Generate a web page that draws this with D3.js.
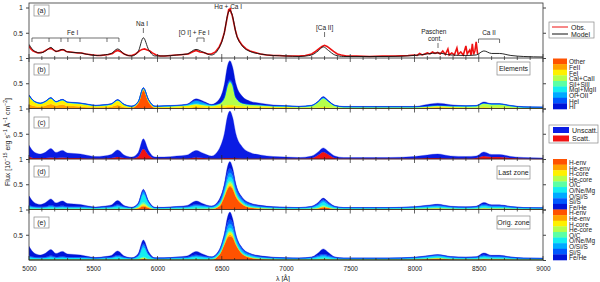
<!DOCTYPE html>
<html>
<head>
<meta charset="utf-8">
<script src="https://cdn.jsdelivr.net/npm/d3@7"></script>
<style>
  body { margin: 0; background: #fff; }
  text { font-family: "Liberation Sans", Arial, sans-serif; fill: #222; }
</style>
</head>
<body>
<script>
var width = 600,
    height = 282;

// wavelength grid (Angstrom) shared by the model and its decompositions
var lambda = [5000,5040,5090,5130,5170,5210,5260,5300,5350,5400,
              5460,5520,5580,5640,5690,5740,5800,5850,5890,5930,
              5980,6050,6150,6230,6300,6360,6420,6480,6520,6545,
              6563,6585,6610,6660,6720,6800,6900,7000,7100,7200,
              7250,7290,7330,7380,7450,7600,7800,8000,8100,8180,
              8280,8400,8480,8540,8600,8660,8750,8850,9000];

// total model flux, panel (a)
var model = [.27,.14,.10,.14,.21,.13,.17,.12,.11,.10,
             .07,.05,.06,.09,.18,.08,.04,.13,.40,.17,
             .04,.04,.06,.08,.17,.11,.06,.20,.50,.85,
             .95,.82,.50,.24,.13,.08,.05,.04,.03,.06,
             .14,.22,.15,.06,.03,.03,.03,.05,.08,.10,
             .06,.05,.06,.14,.09,.09,.05,.03,.02];

// observed spectrum [lambda, flux]
var obs = [[5000,.24],[5008,.20],[5015,.18],[5030,.14],[5050,.12],[5070,.10],[5090,.11],[5110,.12],[5130,.15],[5150,.18],
           [5170,.19],[5190,.16],[5210,.13],[5230,.14],[5250,.16],[5270,.16],[5290,.13],[5320,.12],[5350,.11],[5380,.10],
           [5410,.10],[5440,.08],[5470,.07],[5500,.06],[5530,.05],[5560,.05],[5590,.06],[5620,.07],[5650,.09],[5670,.13],
           [5690,.15],[5710,.13],[5740,.08],[5770,.05],[5800,.05],[5830,.08],[5860,.14],[5880,.17],[5900,.18],[5920,.16],
           [5940,.14],[5960,.10],[5990,.06],[6020,.04],[6060,.04],[6100,.05],[6150,.06],[6200,.07],[6240,.08],[6270,.12],
           [6300,.15],[6330,.12],[6360,.11],[6390,.08],[6420,.08],[6450,.12],[6480,.22],[6500,.33],[6520,.50],[6535,.70],
           [6548,.88],[6555,.97],[6560,.92],[6566,.99],[6572,.90],[6580,.86],[6590,.74],[6605,.56],[6620,.42],[6640,.32],
           [6660,.25],[6690,.18],[6720,.14],[6760,.11],[6800,.08],[6850,.06],[6900,.05],[6950,.05],[7000,.04],[7050,.04],
           [7100,.04],[7150,.05],[7200,.08],[7230,.13],[7260,.19],[7280,.23],[7300,.25],[7320,.23],[7340,.19],[7370,.13],
           [7400,.08],[7430,.06],[7470,.04],[7550,.04],[7650,.03],[7750,.04],[7850,.04],[7950,.05],[8000,.06],[8020,.05],
           [8040,.09],[8060,.06],[8080,.08],[8100,.10],[8120,.08],[8140,.12],[8160,.09],[8180,.11],[8200,.08],[8220,.14],
           [8240,.07],[8260,.18],[8270,.06],[8290,.10],[8310,.06],[8330,.20],[8340,.07],[8360,.12],[8380,.06],[8400,.24],
           [8410,.08],[8430,.16],[8440,.06],[8450,.28],[8460,.07],[8470,.14],[8480,.32],[8490,.10],[8494,.08]];

// panel (b): contribution per element
var elemNames = ["Other","FeII","FeI","CaI+CaII","SiI+SiII","MgI+MgII","OI+OII","HeI","HI"];
var bOther = [.01,.01,.01,.01,.01,.01,.01,.01,.01,.01,
              .005,.005,.005,.005,.01,.005,.01,.10,.36,.13,
              .01,.005,.005,.005,.01,.01,.005,.01,.01,.02,
              .02,.02,.01,.01,.005,.005,.005,0,0,0,
              .005,.005,.005,0,0,0,0,0,.005,.005,
              .005,0,0,.01,.005,.005,0,0,0];
var bFeII = [.08,.04,.03,.05,.08,.05,.07,.04,.04,.03,
             .02,.02,.02,.03,.06,.02,.01,.01,.01,.01,
             .01,.01,.01,.01,.02,.01,.01,.01,.01,.01,
             .01,.01,.01,.01,.01,.01,.01,.01,.005,.005,
             .005,.01,.005,.005,.005,.005,.005,.005,.01,.02,
             .01,.01,.005,.01,.005,.005,.005,0,0];
var bFeI = [.15,.08,.05,.07,.10,.06,.08,.06,.05,.05,
            .04,.02,.03,.04,.08,.04,.01,.01,.02,.02,
            .01,.02,.03,.04,.05,.04,.03,.04,.04,.04,
            .04,.04,.04,.03,.03,.03,.02,.02,.015,.015,
            .015,.015,.015,.015,.01,.01,.01,.01,.015,.015,
            .015,.01,.01,.01,.01,.01,.01,.01,.01];
var bCa = [.01,.005,.005,.005,.01,.005,.005,.005,.005,.005,
           .005,.005,.005,.005,.01,.005,.005,.005,.005,.005,
           .005,.005,.005,.005,.01,.01,.01,.03,.15,.38,
           .45,.38,.15,.05,.03,.02,.01,.01,.01,.03,
           .10,.17,.11,.03,.01,.01,.01,.01,.01,.015,
           .015,.02,.03,.07,.06,.06,.03,.01,.005];
var bSi = [.004,.004,.004,.004,.004,.004,.004,.004,.004,.004,
           .004,.004,.004,.004,.004,.004,.004,.004,.004,.004,
           .004,.004,.004,.004,.004,.004,.004,.004,.004,.004,
           .004,.004,.004,.004,.004,.004,.004,.004,.004,.004,
           .004,.004,.004,.004,.004,.004,.004,.004,.004,.004,
           .004,.004,.004,.004,.004,.004,.004,.004,.004];
var bMg = [.004,.004,.004,.004,.004,.004,.004,.004,.004,.004,
           .004,.004,.004,.004,.004,.004,.004,.004,.004,.004,
           .004,.004,.004,.004,.004,.004,.004,.004,.004,.004,
           .004,.004,.004,.004,.004,.004,.004,.004,.004,.004,
           .004,.004,.004,.004,.004,.004,.004,.004,.004,.004,
           .004,.004,.004,.004,.004,.004,.004,.004,.004];
var bO = [0,0,0,0,0,0,0,0,0,0,
          0,0,0,0,0,0,0,0,0,0,
          0,0,0,.01,.06,.04,.01,0,0,.01,
          .01,.01,0,0,0,0,0,0,0,0,
          0,.01,0,0,0,0,0,0,0,0,
          0,0,0,0,0,0,0,0,0];
var bHeI = [.003,.003,.003,.003,.003,.003,.003,.003,.003,.003,
            .003,.003,.003,.003,.003,.003,.003,.003,.005,.003,
            .003,.003,.003,.003,.003,.003,.003,.003,.005,.02,
            .03,.02,.005,.003,.003,.003,.003,.003,.003,.003,
            .003,.003,.003,.003,.003,.003,.003,.003,.003,.003,
            .003,.003,.003,.003,.003,.003,.003,.003,.003];
var bHI = [.01,.005,.005,.005,.005,.005,.005,.005,.005,.005,
           .005,.005,.005,.005,.005,.005,.005,.005,.005,.005,
           .005,.005,.005,.005,.03,.02,.005,.08,.25,.36,
           .38,.33,.27,.13,.06,.03,.015,.005,.005,.005,
           .01,.015,.01,.005,.005,.005,.005,.005,.03,.04,
           .02,.005,.005,.02,.005,.005,.005,.005,.005];

// panel (c): scattered / unscattered
var scatNames = ["Scatt.","Unscatt."];
var cScatt = [.05,.02,.02,.02,.03,.02,.03,.02,.02,.02,
              .01,.01,.01,.02,.04,.02,.01,.05,.20,.08,
              .01,.01,.01,.01,.03,.02,.01,.01,.02,.02,
              .02,.02,.02,.01,.01,.01,.01,.01,.01,.02,
              .08,.14,.09,.02,.01,.01,.01,.01,.02,.02,
              .01,.01,.02,.06,.04,.04,.02,.01,.005];
var cUnscatt = [.22,.12,.08,.12,.18,.11,.14,.10,.09,.08,
                .06,.04,.05,.07,.14,.06,.03,.08,.20,.09,
                .03,.03,.05,.07,.14,.09,.05,.19,.48,.83,
                .93,.80,.48,.23,.12,.07,.04,.03,.02,.04,
                .06,.08,.06,.04,.02,.02,.02,.04,.06,.08,
                .05,.04,.04,.08,.05,.05,.03,.02,.015];

// panels (d) and (e): contribution per zone
var zoneNames = ["H-env","He-env","H-core","He-core","O/C","O/Ne/Mg","O/Si/S","Si/S","Fe/He"];
var dHenv = [.005,.005,.005,.005,.005,.005,.005,.005,.005,.005,
             .005,.005,.005,.005,.005,.005,.005,.02,.06,.03,
             .005,.005,.005,.005,.01,.01,.01,.06,.25,.40,
             .45,.40,.25,.10,.04,.02,.01,.005,.005,.01,
             .02,.04,.03,.01,.005,.005,.005,.01,.015,.02,
             .01,.005,.01,.02,.015,.015,.01,.005,.005];
var dHeenv = [.003,.003,.003,.003,.003,.003,.003,.003,.003,.003,
              .003,.003,.003,.003,.003,.003,.003,.01,.02,.01,
              .003,.003,.003,.003,.003,.003,.003,.01,.02,.03,
              .03,.03,.02,.01,.003,.003,.003,.003,.003,.003,
              .005,.01,.005,.003,.003,.003,.003,.003,.003,.003,
              .003,.003,.003,.003,.003,.003,.003,.003,.003];
var dHcore = [.003,.003,.003,.003,.003,.003,.003,.003,.003,.003,
              .003,.003,.003,.003,.003,.003,.003,.01,.02,.01,
              .003,.003,.003,.003,.003,.003,.003,.01,.02,.03,
              .03,.03,.02,.01,.003,.003,.003,.003,.003,.003,
              .005,.01,.005,.003,.003,.003,.003,.003,.003,.003,
              .003,.003,.003,.003,.003,.003,.003,.003,.003];
var dHecore = [.006,.006,.006,.006,.006,.006,.006,.006,.006,.006,
               .006,.006,.006,.006,.006,.006,.006,.006,.02,.006,
               .006,.006,.006,.006,.006,.006,.006,.006,.02,.03,
               .03,.03,.02,.006,.006,.006,.006,.006,.006,.006,
               .006,.006,.006,.006,.006,.006,.006,.006,.006,.006,
               .006,.006,.006,.006,.006,.006,.006,.006,.006];
var dOC = [.003,.003,.003,.003,.003,.003,.003,.003,.003,.003,
           .003,.003,.003,.003,.003,.003,.003,.01,.03,.01,
           .003,.003,.003,.003,.003,.003,.003,.003,.003,.03,
           .03,.03,.003,.003,.003,.003,.003,.003,.003,.003,
           .003,.02,.003,.003,.003,.003,.003,.003,.003,.003,
           .003,.003,.003,.003,.003,.003,.003,.003,.003];
var dONeMg = [.03,.02,.015,.02,.03,.02,.025,.02,.02,.02,
              .015,.01,.015,.02,.04,.02,.01,.03,.15,.06,
              .01,.01,.015,.02,.04,.03,.02,.03,.05,.07,
              .08,.07,.05,.03,.02,.015,.01,.01,.008,.015,
              .04,.06,.04,.015,.008,.008,.008,.012,.02,.025,
              .015,.012,.015,.035,.02,.02,.012,.008,.005];
var dOSiS = [.02,.01,.01,.01,.02,.01,.015,.01,.01,.01,
             .01,.005,.01,.01,.02,.01,.005,.02,.05,.02,
             .005,.005,.01,.01,.02,.015,.01,.02,.05,.07,
             .08,.07,.05,.03,.02,.01,.008,.006,.005,.01,
             .02,.03,.02,.01,.005,.005,.005,.008,.012,.015,
             .01,.008,.01,.02,.015,.015,.01,.005,.004];
var dSiS = [.02,.01,.01,.01,.02,.01,.015,.01,.01,.01,
            .01,.005,.01,.01,.02,.01,.005,.01,.03,.01,
            .005,.005,.01,.01,.02,.015,.01,.02,.05,.08,
            .08,.08,.05,.03,.02,.01,.008,.006,.005,.01,
            .02,.02,.02,.01,.005,.005,.005,.008,.012,.015,
            .01,.008,.01,.02,.015,.015,.01,.005,.004];
var dFeHe = [.18,.08,.045,.08,.12,.07,.095,.06,.05,.04,
             .015,.01,.01,.03,.08,.02,.005,.015,.02,.015,
             .003,.003,.005,.02,.065,.025,.003,.04,.04,.11,
             .14,.08,.04,.02,.015,.013,.005,.003,.002,.005,
             .02,.03,.02,.005,.002,.002,.002,.003,.01,.015,
             .005,.005,.005,.03,.013,.013,.002,.002,.002];

var eHenv = [.005,.005,.005,.005,.005,.005,.005,.005,.005,.005,
             .005,.005,.005,.005,.005,.005,.005,.01,.02,.01,
             .005,.005,.005,.005,.01,.005,.005,.10,.30,.44,
             .47,.44,.30,.12,.05,.02,.01,.005,.005,.005,
             .01,.015,.01,.005,.005,.005,.005,.01,.02,.03,
             .015,.01,.01,.02,.015,.015,.01,.005,.005];
var eHeenv = [.003,.003,.003,.003,.003,.003,.003,.003,.003,.003,
              .003,.003,.003,.003,.003,.003,.003,.003,.01,.003,
              .003,.003,.003,.003,.003,.003,.003,.003,.02,.03,
              .03,.03,.02,.003,.003,.003,.003,.003,.003,.003,
              .003,.003,.003,.003,.003,.003,.003,.003,.003,.005,
              .003,.003,.003,.003,.003,.003,.003,.003,.003];
var eHcore = [.003,.003,.003,.003,.003,.003,.003,.003,.003,.003,
              .003,.003,.003,.003,.003,.003,.003,.003,.01,.003,
              .003,.003,.003,.003,.003,.003,.003,.003,.02,.03,
              .04,.03,.02,.003,.003,.003,.003,.003,.003,.003,
              .003,.003,.003,.003,.003,.003,.003,.003,.003,.003,
              .003,.003,.003,.003,.003,.003,.003,.003,.003];
var eHecore = [.006,.006,.006,.006,.006,.006,.006,.006,.006,.006,
               .006,.006,.006,.006,.006,.006,.006,.006,.006,.006,
               .006,.006,.006,.006,.006,.006,.006,.006,.006,.02,
               .02,.02,.006,.006,.006,.006,.006,.006,.006,.006,
               .006,.006,.006,.006,.006,.006,.006,.006,.006,.006,
               .006,.006,.006,.006,.006,.006,.006,.006,.006];
var eOC = [.003,.003,.003,.003,.003,.003,.003,.003,.003,.003,
           .003,.003,.003,.003,.003,.003,.003,.003,.02,.003,
           .003,.003,.003,.003,.003,.003,.003,.003,.003,.02,
           .02,.02,.003,.003,.003,.003,.003,.003,.003,.003,
           .003,.003,.003,.003,.003,.003,.003,.003,.003,.003,
           .003,.003,.003,.003,.003,.003,.003,.003,.003];
var eONeMg = [.03,.02,.015,.02,.03,.02,.025,.02,.02,.02,
              .015,.01,.015,.02,.04,.02,.01,.04,.18,.07,
              .01,.01,.015,.02,.04,.03,.02,.03,.05,.05,
              .06,.05,.04,.03,.02,.015,.01,.01,.008,.015,
              .03,.04,.03,.015,.008,.008,.008,.012,.02,.025,
              .015,.012,.015,.03,.02,.02,.012,.008,.005];
var eOSiS = [.02,.01,.01,.01,.02,.01,.015,.01,.01,.01,
             .01,.005,.01,.01,.02,.01,.005,.02,.05,.02,
             .005,.005,.01,.01,.02,.015,.01,.02,.05,.07,
             .08,.07,.05,.03,.02,.01,.008,.006,.005,.01,
             .02,.03,.02,.01,.005,.005,.005,.008,.012,.015,
             .01,.008,.01,.02,.015,.015,.01,.005,.004];
var eSiS = [.02,.01,.01,.01,.02,.01,.015,.01,.01,.01,
            .01,.005,.01,.01,.02,.01,.005,.01,.03,.01,
            .005,.005,.01,.01,.02,.015,.01,.02,.05,.08,
            .08,.08,.05,.03,.02,.01,.008,.006,.005,.01,
            .02,.02,.02,.01,.005,.005,.005,.008,.012,.015,
            .01,.008,.01,.02,.015,.015,.01,.005,.004];
var eFeHe = [.18,.08,.045,.08,.12,.07,.095,.06,.05,.04,
             .015,.01,.01,.03,.08,.02,.005,.035,.07,.045,
             .003,.003,.005,.02,.065,.03,.003,.015,.01,.11,
             .15,.08,.01,.015,.005,.013,.005,.003,.002,.005,
             .045,.10,.055,.005,.002,.002,.002,.003,.005,.005,
             .005,.005,.005,.035,.013,.013,.002,.002,.002];

// axis ticks and annotation positions
var xMajor = [5000,5500,6000,6500,7000,7500,8000,8500,9000];
var xMinor = d3.range(5000, 9001, 100);
var yTicks = [0.5, 1];
var panelTags = ["(a)","(b)","(c)","(d)","(e)"];
var feLines = [5023,5156,5249,5303,5397,5607,5700];

// jet-like palette, top of colour bar first
var jet = ["#ff5200","#ffa200","#fff000","#b6ff4a","#5cffa4","#14eef0","#00aaff","#0058ff","#0014d8"];
var scatColors = ["#f01212","#0a1ce4"];

var svg = d3.select("body")
            .append("svg")
            .attr("width", width)
            .attr("height", height);

var x = d3.scaleLinear()
          .domain([5000, 9000])
          .range([29, 543]);

var panelH = 50.5,
    bottoms = [58, 108.5, 159, 209.5, 260],
    top0 = 3;

var ys = bottoms.map(function(b) {
  return d3.scaleLinear().domain([0, 1]).range([b, b - panelH]);
});

svg.append("clipPath").attr("id", "frame")
   .append("rect").attr("x", 29).attr("y", top0).attr("width", 514).attr("height", 260 - top0);

var plot = svg.append("g").attr("clip-path", "url(#frame)");

/* stacked panels */
function stackPanel(i, names, arrays, colors) {
  var rows = lambda.map(function(l, k) {
    var r = {l: l};
    names.forEach(function(n, j) { r[n] = arrays[j][k]; });
    return r;
  });
  var series = d3.stack().keys(names)(rows);
  var area = d3.area()
      .x(function(d) { return x(d.data.l); })
      .y0(function(d) { return ys[i](d[0]); })
      .y1(function(d) { return ys[i](d[1]); })
      .curve(d3.curveMonotoneX);
  plot.append("g").selectAll("path")
      .data(series)
      .enter().append("path")
      .attr("d", area)
      .attr("fill", function(d, j) { return colors[j]; })
      .attr("stroke", function(d, j) { return colors[j]; })
      .attr("stroke-width", 0.3);
}

stackPanel(1, elemNames, [bOther,bFeII,bFeI,bCa,bSi,bMg,bO,bHeI,bHI], jet);
stackPanel(2, scatNames, [cScatt,cUnscatt], scatColors);
stackPanel(3, zoneNames, [dHenv,dHeenv,dHcore,dHecore,dOC,dONeMg,dOSiS,dSiS,dFeHe], jet);
stackPanel(4, zoneNames, [eHenv,eHeenv,eHcore,eHecore,eOC,eONeMg,eOSiS,eSiS,eFeHe], jet);

/* panel (a): obs and model */
plot.append("path")
    .datum(obs)
    .attr("d", d3.line().x(function(d) { return x(d[0]); }).y(function(d) { return ys[0](d[1]); }))
    .attr("fill", "none")
    .attr("stroke", "#ee1111")
    .attr("stroke-width", 1.6);

plot.append("path")
    .datum(lambda)
    .attr("d", d3.line()
        .x(function(d) { return x(d); })
        .y(function(d, k) { return ys[0](model[k]); })
        .curve(d3.curveMonotoneX))
    .attr("fill", "none")
    .attr("stroke", "#111")
    .attr("stroke-width", 0.9);

/* frame, separators, ticks */
svg.append("rect")
   .attr("x", 29).attr("y", top0).attr("width", 514).attr("height", 260 - top0)
   .attr("fill", "none").attr("stroke", "#333").attr("stroke-width", 0.8);

bottoms.forEach(function(b, i) {
  svg.append("line").attr("x1", 29).attr("x2", 543).attr("y1", b).attr("y2", b)
     .attr("stroke", "#222").attr("stroke-width", 0.8);

  // x ticks on panel boundary, into this panel and the one below
  var down = i < 4;
  svg.append("g").selectAll("line")
     .data(xMinor)
     .enter().append("line")
     .attr("x1", function(d) { return x(d); })
     .attr("x2", function(d) { return x(d); })
     .attr("y1", function(d) { return b - (d % 500 === 0 ? 4 : 2); })
     .attr("y2", function(d) { return down ? b + (d % 500 === 0 ? 4 : 2) : b; })
     .attr("stroke", "#222").attr("stroke-width", 0.7);

  // left axis
  svg.append("g")
     .attr("transform", "translate(29,0)")
     .call(d3.axisLeft(ys[i]).tickValues(yTicks).tickSize(3).tickPadding(3)
             .tickFormat(function(d) { return d === 1 ? "1" : "0.5"; }))
     .call(function(g) {
       g.select(".domain").remove();
       g.selectAll("text").attr("font-size", 7).attr("fill", "#333")
        .attr("font-family", "Liberation Sans, Arial, sans-serif");
       g.selectAll("line").attr("stroke", "#444");
     });

  // right axis
  svg.append("g")
     .attr("transform", "translate(543,0)")
     .call(d3.axisRight(ys[i]).tickValues([0, 0.5, 1]).tickSize(3).tickFormat(""))
     .call(function(g) {
       g.select(".domain").remove();
       g.selectAll("line").attr("stroke", "#444");
     });
});

// bottom labels
svg.append("g")
   .attr("transform", "translate(0,260)")
   .call(d3.axisBottom(x).tickValues(xMajor).tickSize(0).tickPadding(6)
           .tickFormat(d3.format("d")))
   .call(function(g) {
     g.select(".domain").remove();
     g.selectAll("text").attr("font-size", 6.5).attr("fill", "#333")
      .attr("font-family", "Liberation Sans, Arial, sans-serif");
   });

svg.append("text")
   .attr("x", 283).attr("y", 281)
   .attr("text-anchor", "middle").attr("font-size", 7)
   .text("λ [Å]");

var ylab = svg.append("text")
   .attr("transform", "translate(10,142) rotate(-90)")
   .attr("text-anchor", "middle").attr("font-size", 7);
ylab.append("tspan").text("Flux [10");
ylab.append("tspan").attr("dy", -3).attr("font-size", 5).text("−15");
ylab.append("tspan").attr("dy", 3).text(" erg s");
ylab.append("tspan").attr("dy", -3).attr("font-size", 5).text("−1");
ylab.append("tspan").attr("dy", 3).text(" Å");
ylab.append("tspan").attr("dy", -3).attr("font-size", 5).text("−1");
ylab.append("tspan").attr("dy", 3).text(" cm");
ylab.append("tspan").attr("dy", -3).attr("font-size", 5).text("−2");
ylab.append("tspan").attr("dy", 3).text("]");

/* panel tags */
var tagY = [5, 64, 117, 166, 217];
panelTags.forEach(function(t, i) {
  svg.append("rect").attr("x", 34).attr("y", tagY[i]).attr("width", 15).attr("height", 11)
     .attr("fill", "#fff").attr("stroke", "#888").attr("stroke-width", 0.7);
  svg.append("text").attr("x", 41.5).attr("y", tagY[i] + 8.3)
     .attr("text-anchor", "middle").attr("font-size", 7).text(t);
});

/* in-panel titles */
[["Elements", 62], ["Last zone", 166], ["Orig. zone", 216]].forEach(function(p) {
  svg.append("rect").attr("x", 497).attr("y", p[1]).attr("width", 33).attr("height", 13)
     .attr("fill", "#fff").attr("stroke", "#888").attr("stroke-width", 0.7);
  svg.append("text").attr("x", 513.5).attr("y", p[1] + 9)
     .attr("text-anchor", "middle").attr("font-size", 7).text(p[0]);
});

/* line identifications in panel (a) */
var ann = svg.append("g").attr("stroke", "#333").attr("stroke-width", 0.7).attr("fill", "none");
var yb = 38;
ann.append("line").attr("x1", x(feLines[0])).attr("x2", x(feLines[feLines.length - 1])).attr("y1", yb).attr("y2", yb);
feLines.forEach(function(l) {
  ann.append("line").attr("x1", x(l)).attr("x2", x(l)).attr("y1", yb).attr("y2", yb + 4);
});
ann.append("line").attr("x1", x(5890)).attr("x2", x(5890)).attr("y1", 28).attr("y2", 33);
ann.append("path").attr("d", "M" + x(6307) + "," + (yb + 4) + "V" + yb + "H" + x(6362) + "V" + (yb + 4));
ann.append("line").attr("x1", x(7300)).attr("x2", x(7300)).attr("y1", 32).attr("y2", 37);
ann.append("line").attr("x1", x(8183)).attr("x2", x(8183)).attr("y1", 43).attr("y2", 48);
ann.append("path").attr("d", "M" + x(8498) + "," + (yb + 5) + "V" + (yb + 1) + "H" + x(8662) + "V" + (yb + 5));

function label(t, l, yy) {
  svg.append("text").attr("x", x(l)).attr("y", yy)
     .attr("text-anchor", "middle").attr("font-size", 6.5).text(t);
}
label("Fe I", 5340, 35);
label("Na I", 5880, 26);
label("[O I] + Fe I", 6285, 35);
label("Hα + Ca I", 6550, 9);
label("[Ca II]", 7300, 30);
label("Paschen", 8150, 34);
label("cont.", 8160, 41);
label("Ca II", 8580, 35);

/* legend (a) */
svg.append("rect").attr("x", 549).attr("y", 22).attr("width", 45).attr("height", 16)
   .attr("fill", "#fff").attr("stroke", "#888").attr("stroke-width", 0.7);
svg.append("line").attr("x1", 552).attr("x2", 568).attr("y1", 27).attr("y2", 27)
   .attr("stroke", "#ee1111").attr("stroke-width", 1);
svg.append("line").attr("x1", 552).attr("x2", 568).attr("y1", 34).attr("y2", 34)
   .attr("stroke", "#111").attr("stroke-width", 1);
svg.append("text").attr("x", 571).attr("y", 29.5).attr("font-size", 7).text("Obs.");
svg.append("text").attr("x", 571).attr("y", 36.5).attr("font-size", 7).text("Model");

/* legend (c) */
svg.append("rect").attr("x", 549).attr("y", 125).attr("width", 49).attr("height", 18)
   .attr("fill", "#fff").attr("stroke", "#888").attr("stroke-width", 0.7);
[[scatColors[1], "Unscatt.", 127], [scatColors[0], "Scatt.", 135.5]].forEach(function(p) {
  svg.append("rect").attr("x", 553).attr("y", p[2]).attr("width", 16).attr("height", 6).attr("fill", p[0]);
  svg.append("text").attr("x", 572).attr("y", p[2] + 5.5).attr("font-size", 7).text(p[1]);
});

/* colour bars */
function colorbar(yTop, names) {
  var h = panelH / names.length;
  var g = svg.append("g");
  g.selectAll("rect")
   .data(names)
   .enter().append("rect")
   .attr("x", 553).attr("y", function(d, j) { return yTop + j * h; })
   .attr("width", 14).attr("height", h + 0.3)
   .attr("fill", function(d, j) { return jet[j]; });
  g.selectAll("text")
   .data(names)
   .enter().append("text")
   .attr("x", 569).attr("y", function(d, j) { return yTop + (j + 1) * h + 0.3; })
   .attr("font-size", 6.5)
   .text(function(d) { return d; });
}
colorbar(58.5, elemNames);
colorbar(159, zoneNames);
colorbar(209.5, zoneNames);
</script>
</body>
</html>
